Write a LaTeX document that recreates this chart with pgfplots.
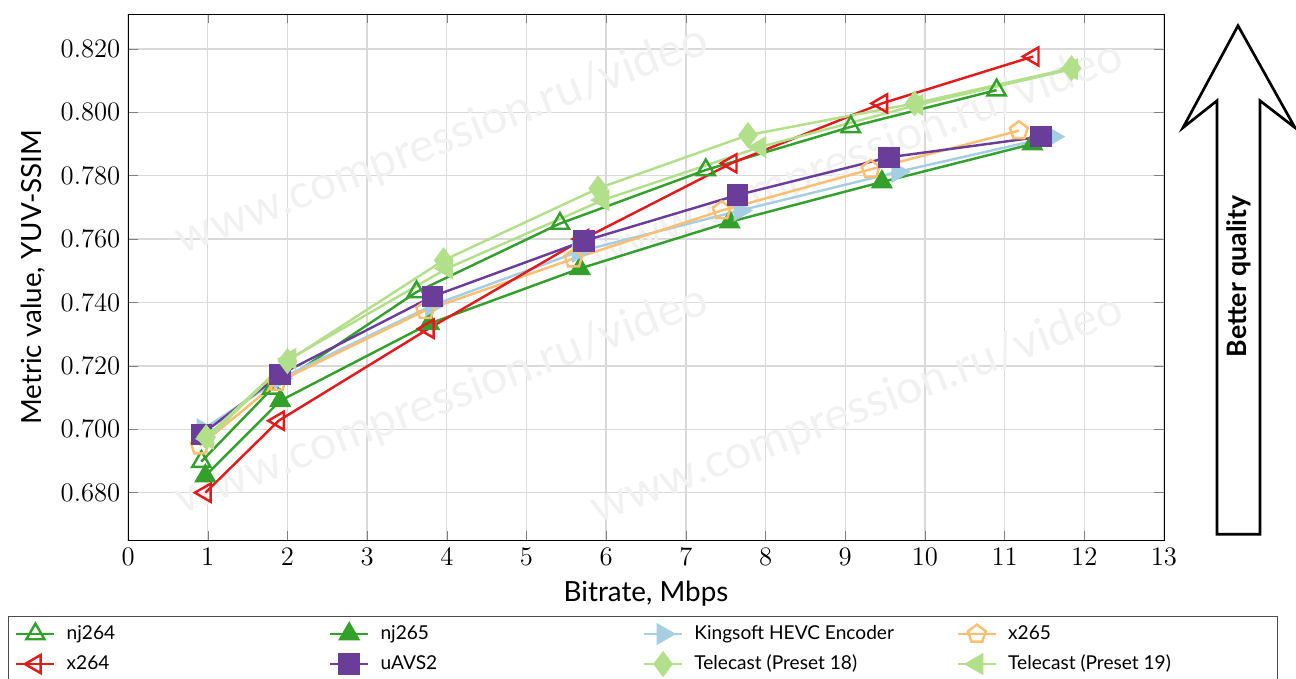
\documentclass[border=0pt]{standalone}
\usepackage{fontspec}
\setmainfont{Lato}
\usepackage{pgfplots}
\pgfplotsset{compat=1.18}

\definecolor{cgreen}{HTML}{33A02C}
\definecolor{cred}{HTML}{E31A1C}
\definecolor{cpurple}{HTML}{6A3D9A}
\definecolor{cblue}{HTML}{A6CEE3}
\definecolor{corange}{HTML}{FDBF6F}
\definecolor{clgreen}{HTML}{B2DF8A}

\newcommand{\lent}[1]{\makebox[119pt][l]{\hspace*{3pt}#1}}

\begin{document}
\begin{tikzpicture}
\begin{axis}[
  width=466pt, height=237pt, scale only axis,
  xmin=0, xmax=13, ymin=0.6648, ymax=0.831,
  xtick={0,1,...,13},
  ytick={0.68,0.70,0.72,0.74,0.76,0.78,0.80,0.82},
  yticklabel style={/pgf/number format/.cd, fixed, fixed zerofill, precision=3},
  ticklabel style={font=\fontsize{13}{15}\selectfont},
  label style={font=\fontsize{12.5}{15}\selectfont},
  xlabel={Bitrate, Mbps},
  ylabel={Metric value, YUV-SSIM},
  grid=major, grid style={gray!30, line width=0.6pt},
  every axis plot/.append style={line width=1.1pt},
  legend columns=4,
  legend cell align=left,
  legend style={at={(axis description cs:-0.1158,-0.1426)}, anchor=north west,
    font=\fontsize{8.6}{11}\selectfont, draw=black!70, row sep=1.5pt},
]

\node[rotate=21, text=gray!11, font=\fontsize{21}{24}\selectfont] at (axis cs:3.94,0.791) {www.compression.ru/video};
\node[rotate=21, text=gray!11, font=\fontsize{21}{24}\selectfont] at (axis cs:9.15,0.786) {www.compression.ru/video};
\node[rotate=21, text=gray!11, font=\fontsize{21}{24}\selectfont] at (axis cs:3.94,0.709) {www.compression.ru/video};
\node[rotate=21, text=gray!11, font=\fontsize{21}{24}\selectfont] at (axis cs:9.15,0.706) {www.compression.ru/video};

% nj264
\addplot[cgreen, mark=triangle, mark size=4.7pt, mark options={fill=white, line width=1.1pt}] coordinates {
  (0.92,0.6898) (1.81,0.7129) (3.62,0.7433) (5.42,0.7649) (7.25,0.7818) (9.07,0.7954) (10.9,0.8070)
};
\addlegendentry{\lent{nj264}}
% nj265
\addplot[cgreen, mark=triangle*, mark size=4.7pt] coordinates {
  (0.97,0.6853) (1.91,0.7090) (3.78,0.7333) (5.67,0.7507) (7.55,0.7654) (9.46,0.7780) (11.35,0.7900)
};
\addlegendentry{\lent{nj265}}
% Kingsoft
\addplot[cblue, mark=triangle*, mark size=4.7pt, mark options={rotate=-90}] coordinates {
  (0.94,0.7000) (1.91,0.7160) (3.81,0.7390) (5.65,0.7560) (7.68,0.7690) (9.66,0.7812) (11.6,0.7923)
};
\addlegendentry{\lent{Kingsoft HEVC Encoder}}
% x265
\addplot[corange, mark=pentagon, mark size=4.2pt, mark options={line width=1.1pt}] coordinates {
  (0.90,0.6948) (1.87,0.7148) (3.73,0.7375) (5.59,0.7538) (7.45,0.7690) (9.32,0.7820) (11.18,0.7942)
};
\addlegendentry{\lent{x265}}
% x264
\addplot[cred, mark=triangle, mark size=4.7pt, mark options={rotate=90, fill=white, line width=1.1pt}] coordinates {
  (0.97,0.6800) (1.89,0.7027) (3.77,0.7317) (5.71,0.7600) (7.57,0.7839) (9.46,0.8028) (11.36,0.8176)
};
\addlegendentry{\lent{x264}}
% uAVS2
\addplot[cpurple, mark=square*, mark size=4.3pt] coordinates {
  (0.92,0.6983) (1.91,0.7173) (3.82,0.7419) (5.72,0.7594) (7.65,0.7739) (9.55,0.7858) (11.46,0.7923)
};
\addlegendentry{\lent{uAVS2}}
% Telecast 18
\addplot[clgreen, mark=diamond*, mark size=5pt] coordinates {
  (0.98,0.6975) (2.0,0.7215) (3.96,0.7533) (5.90,0.7760) (7.78,0.7928) (9.87,0.8028) (11.84,0.8139)
};
\addlegendentry{\lent{Telecast (Preset 18)}}
% Telecast 19
\addplot[clgreen, mark=triangle*, mark size=4.7pt, mark options={rotate=90}] coordinates {
  (1.0,0.6970) (2.03,0.7222) (4.0,0.7507) (5.96,0.7723) (7.93,0.7890) (9.9,0.8023) (11.84,0.8136)
};
\addlegendentry{\lent{Telecast (Preset 19)}}
\end{axis}

\draw[line width=1.2pt, fill=white]
  ([shift={(33.3pt,231.75pt)}]current axis.south east)
  -- ([shift={(58.95pt,185.85pt)}]current axis.south east)
  -- ([shift={(43.2pt,198pt)}]current axis.south east)
  -- ([shift={(43.2pt,3pt)}]current axis.south east)
  -- ([shift={(23.85pt,3pt)}]current axis.south east)
  -- ([shift={(23.85pt,198pt)}]current axis.south east)
  -- ([shift={(8.55pt,185.85pt)}]current axis.south east)
  -- cycle;
\node[rotate=90, font=\fontsize{12}{14}\selectfont\bfseries] at ([shift={(33.5pt,119pt)}]current axis.south east) {Better quality};

\pgfresetboundingbox
\path ([shift={(-57.6pt,-62.1pt)}]current axis.south west) rectangle ([shift={(59.4pt,6.3pt)}]current axis.north east);
\end{tikzpicture}
\end{document}
